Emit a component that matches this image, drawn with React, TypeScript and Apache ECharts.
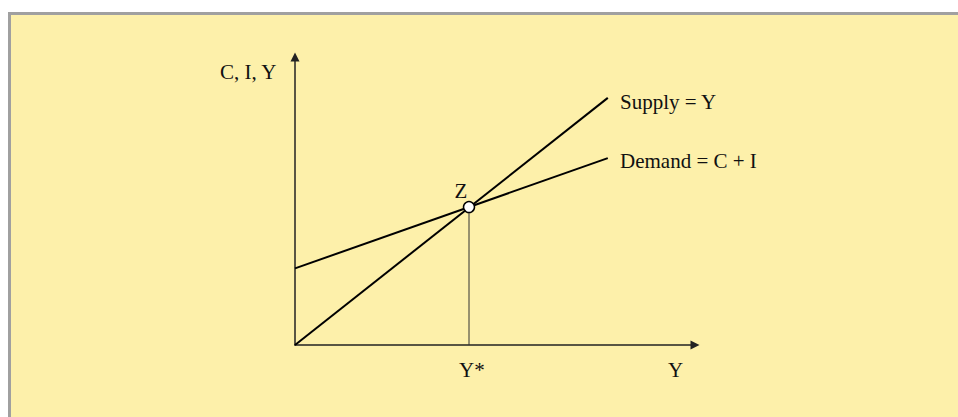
import React, { useEffect, useRef } from "react";
import * as echarts from "echarts";

// Keynesian cross: values in axis units (0-100 on both axes)
const supplyX = [0, 78.2];
const supplyY = [0, 85.8];
const demandX = [0, 78.2];
const demandY = [26.6, 64.9];
const equilibrium = [43.5, 47.9];

const labels = {
  yAxis: "C, I, Y",
  xAxis: "Y",
  supply: "Supply = Y",
  demand: "Demand = C + I",
  point: "Z",
  pointX: "Y*",
};

const FONT = '"Liberation Serif", "Times New Roman", serif';

export default function App() {
  const ref = useRef<HTMLDivElement>(null);
  useEffect(() => {
    if (!ref.current) return;
    const chart = echarts.init(ref.current, undefined, { renderer: "svg" });
    const txt = (text: string, x: number, y: number, align: string = "left") => ({
      type: "text",
      x,
      y,
      z: 10,
      style: {
        text,
        font: `21px ${FONT}`,
        fill: "#111",
        align,
        verticalAlign: "middle",
      },
    });
    const axisCommon = {
      type: "value",
      min: 0,
      max: 100,
      axisLine: {
        show: true,
        lineStyle: { color: "#222", width: 1.5 },
        symbol: ["none", "triangle"],
        symbolSize: [9, 9],
      },
      axisTick: { show: false },
      axisLabel: { show: false },
      splitLine: { show: false },
    };
    chart.setOption({
      animation: false,
      grid: { left: 295, right: 958 - 695, top: 57, bottom: 417 - 345 },
      xAxis: axisCommon,
      yAxis: axisCommon,
      graphic: [
        {
          type: "rect",
          z: -10,
          silent: true,
          shape: { x: 9.5, y: 13.5, width: 1000, height: 500 },
          style: { fill: "#FDF0AA", stroke: "#A0A0A0", lineWidth: 3 },
        },
        txt(labels.yAxis, 220, 72),
        txt(labels.supply, 620, 102),
        txt(labels.demand, 620, 161),
        txt(labels.point, 461, 191, "center"),
        txt(labels.pointX, 459, 370),
        txt(labels.xAxis, 675.5, 370, "center"),
      ],
      series: [
        {
          type: "line",
          data: supplyX.map((x, i) => [x, supplyY[i]]),
          showSymbol: false,
          lineStyle: { color: "#000", width: 2 },
        },
        {
          type: "line",
          data: demandX.map((x, i) => [x, demandY[i]]),
          showSymbol: false,
          lineStyle: { color: "#000", width: 2 },
        },
        {
          type: "line",
          data: [
            [equilibrium[0], 0],
            [equilibrium[0], equilibrium[1]],
          ],
          showSymbol: false,
          lineStyle: { color: "#333", width: 1 },
        },
        {
          type: "scatter",
          data: [equilibrium],
          symbolSize: 11,
          z: 5,
          itemStyle: { color: "#fff", borderColor: "#000", borderWidth: 1.5, opacity: 1 },
        },
      ],
    });
    return () => chart.dispose();
  }, []);
  return (
    <div
      ref={ref}
      style={{ position: "absolute", left: 0, top: 0, width: 958, height: 417 }}
    />
  );
}
